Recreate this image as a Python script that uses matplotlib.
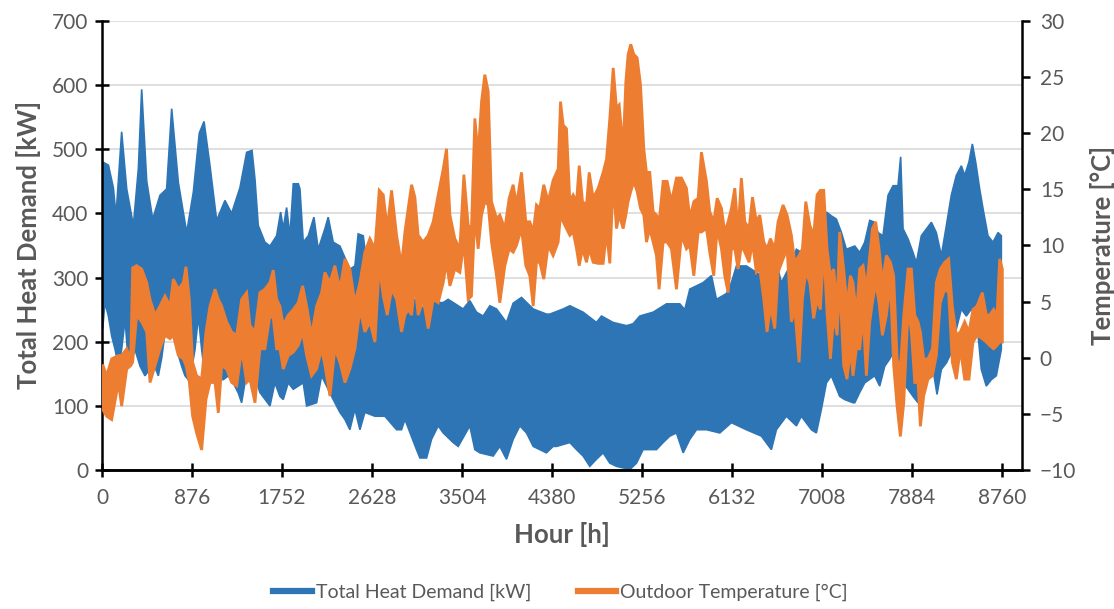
import numpy as np
import matplotlib
matplotlib.use("Agg")
import matplotlib.pyplot as plt
from matplotlib.lines import Line2D

plt.rcParams['font.family'] = ['Lato', 'DejaVu Sans']

# heat demand envelope (hour, kW)
demand_top_h = [6, 62, 110, 136, 191, 240, 305, 354, 386, 435, 493, 564, 629, 678, 743, 824, 889, 947, 993,
                1051, 1116, 1197, 1262, 1343, 1408, 1460, 1489, 1521, 1586, 1635, 1700, 1739, 1764, 1797, 1830,
                1862, 1911, 1927, 1959, 2008, 2063, 2105, 2170, 2202, 2251, 2316, 2413, 2462, 2494, 2543, 2592,
                2640, 2689, 2738, 2835, 2932, 3014, 3111, 3160, 3224, 3322, 3370, 3468, 3516, 3581, 3646, 3711,
                3776, 3841, 3938, 4003, 4084, 4198, 4327, 4360, 4490, 4555, 4684, 4814, 4863, 4976, 5106, 5171,
                5236, 5366, 5496, 5625, 5674, 5723, 5788, 5852, 5934, 5982, 6080, 6128, 6177, 6274, 6371, 6517,
                6566, 6615, 6712, 6761, 6858, 6907, 6955, 7004, 7053, 7101, 7150, 7199, 7247, 7296, 7329, 7377,
                7426, 7475, 7523, 7556, 7604, 7653, 7702, 7750, 7776, 7799, 7848, 7896, 7929, 7977, 8075, 8123,
                8172, 8221, 8269, 8318, 8367, 8399, 8441, 8474, 8506, 8545, 8578, 8626, 8675, 8724, 8756]
demand_top = [480, 475, 440, 396, 527, 438, 381, 470, 593, 450, 391, 428, 438, 563, 448, 370, 433, 525, 543,
              474, 389, 420, 400, 440, 495, 498, 453, 381, 355, 349, 365, 402, 376, 409, 365,
              446, 446, 438, 355, 365, 394, 344, 376, 394, 355, 349, 313, 318, 368, 365, 303,
              344, 330, 320, 290, 262, 272, 251, 261, 261, 261, 266, 256, 251, 264, 246, 240,
              256, 251, 230, 260, 269, 251, 243, 243, 251, 256, 246, 230, 240, 230, 225, 228,
              240, 246, 259, 259, 250, 282, 287, 292, 303, 266, 275, 292, 318, 318, 308, 292,
              323, 292, 323, 344, 334, 292, 287, 303, 402, 396, 391, 370, 344, 347, 349, 339,
              355, 389, 386, 370, 365, 428, 443, 443, 488, 376, 360, 339, 323, 365, 386, 370,
              334, 381, 428, 459, 474, 459, 480, 508, 480, 438, 407, 365, 355, 370, 365]

demand_low_h = [6, 28, 62, 94, 127, 159, 191, 224, 256, 289, 321, 370, 418, 467, 499, 548, 581, 613, 662, 694,
                727, 775, 808, 840, 873, 905, 938, 970, 1002, 1051, 1100, 1132, 1181, 1230, 1278, 1327, 1359,
                1408, 1457, 1489, 1537, 1635, 1683, 1732, 1764, 1813, 1862, 1959, 1992, 2089, 2138, 2235, 2316,
                2365, 2413, 2462, 2511, 2559, 2657, 2754, 2868, 2916, 2949, 3062, 3095, 3160, 3208, 3273, 3322,
                3419, 3468, 3581, 3630, 3679, 3808, 3873, 3938, 4003, 4068, 4133, 4198, 4327, 4392, 4425, 4555,
                4620, 4684, 4749, 4814, 4879, 4944, 5009, 5139, 5204, 5268, 5398, 5463, 5528, 5593, 5658, 5723,
                5788, 5885, 6015, 6128, 6274, 6420, 6517, 6566, 6663, 6761, 6809, 6907, 6955, 7004, 7053, 7101,
                7182, 7231, 7312, 7329, 7377, 7426, 7523, 7572, 7621, 7669, 7718, 7750, 7799, 7848, 7896, 7945,
                7994, 8091, 8130, 8172, 8221, 8269, 8318, 8367, 8415, 8464, 8513, 8561, 8610, 8659, 8707, 8756]
demand_low = [220, 261, 240, 209, 188, 162, 188, 235, 167, 172, 188, 162, 147, 158, 167, 147, 175, 214, 209, 230,
              188, 162, 147, 141, 158, 188, 240, 188, 147, 158, 158, 141, 141, 147, 136, 120, 105,
              152, 136, 147, 121, 100, 136, 115, 110, 136, 126, 136, 100, 105, 147, 115, 90,
              79, 63, 95, 63, 90, 84, 84, 63, 63, 79, 32, 19, 19, 48, 69, 58,
              43, 37, 69, 32, 27, 22, 37, 17, 48, 69, 58, 37, 27, 37, 37, 43,
              32, 22, 6, 17, 27, 11, 6, 1, 11, 32, 32, 43, 53, 58, 27, 48,
              63, 63, 58, 74, 63, 53, 32, 63, 84, 69, 84, 63, 58, 95, 136, 147,
              115, 110, 105, 105, 121, 136, 147, 131, 162, 173, 188, 162, 136, 126, 115, 105,
              136, 157, 118, 157, 167, 183, 220, 251, 240, 251, 240, 157, 131, 141, 147, 188]

# outdoor temperature band (hour, °C high / low)
temp_h = [6, 45, 94, 159, 191, 240, 279, 298, 337, 386, 435, 467, 516, 564, 613, 662, 694, 743, 792, 817,
          850, 882, 921, 970, 1012, 1051, 1100, 1132, 1165, 1213, 1262, 1311, 1359, 1408, 1440, 1489, 1537,
          1586, 1635, 1667, 1700, 1732, 1764, 1813, 1862, 1910, 1953, 1992, 2040, 2089, 2138, 2170, 2219,
          2267, 2316, 2365, 2413, 2462, 2511, 2559, 2608, 2657, 2699, 2738, 2777, 2819, 2868, 2916, 2949,
          2981, 3014, 3046, 3078, 3127, 3176, 3224, 3273, 3322, 3354, 3387, 3435, 3484, 3523, 3565, 3597,
          3630, 3662, 3695, 3727, 3760, 3792, 3841, 3873, 3922, 3964, 4003, 4035, 4084, 4126, 4165, 4198,
          4230, 4262, 4301, 4344, 4392, 4441, 4464, 4490, 4522, 4555, 4587, 4620, 4646, 4678, 4717, 4743,
          4782, 4831, 4879, 4912, 4944, 4977, 5009, 5035, 5074, 5100, 5122, 5148, 5178, 5210, 5243, 5275,
          5301, 5333, 5366, 5398, 5424, 5463, 5502, 5544, 5593, 5642, 5690, 5723, 5762, 5804, 5836, 5885,
          5917, 5956, 5989, 6031, 6063, 6096, 6128, 6161, 6193, 6225, 6258, 6300, 6333, 6371, 6404, 6443,
          6475, 6508, 6550, 6582, 6631, 6670, 6712, 6745, 6787, 6819, 6852, 6891, 6929, 6962, 6994, 7027,
          7059, 7092, 7124, 7157, 7182, 7221, 7254, 7286, 7312, 7345, 7377, 7410, 7442, 7475, 7501, 7533,
          7565, 7598, 7637, 7676, 7708, 7741, 7773, 7806, 7848, 7880, 7913, 7945, 7968, 8000, 8042, 8085,
          8123, 8162, 8205, 8243, 8279, 8318, 8357, 8399, 8441, 8480, 8519, 8571, 8610, 8642, 8681, 8714,
          8740, 8766]
temp_high = [-0.6, -1.6, -0.1, 0.2, 0.2, 0.8, -0.1, 8.0, 8.2, 7.9, 6.7, 5.2, 3.8, 4.6, 5.5, 4.6, 7.0, 6.1, 6.7, 8.1,
             5.2, -0.4, -1.6, -1.9, 2.3, 4.6, 6.1, 5.2, 4.6, 3.2, 2.3, 2.0, 5.2, 5.8, 2.9, 2.3, 5.8,
             6.1, 6.7, 7.8, 5.2, 4.6, 2.9, 3.8, 4.3, 4.9, 6.4, 4.6, 2.0, 4.6, 5.8, 7.6, 6.7,
             8.2, 6.1, 8.8, 7.9, 4.9, 6.7, 9.4, 10.6, 9.7, 14.9, 14.5, 11.5, 14.9, 10.9, 8.2, 11.2,
             13.3, 15.4, 14.3, 10.9, 10.3, 10.9, 12.1, 14.5, 16.8, 18.6, 12.7, 10.6, 9.7, 16.3, 11.8, 11.5,
             21.3, 18.0, 22.8, 25.2, 23.7, 13.9, 12.4, 12.7, 11.5, 14.2, 15.4, 13.6, 16.5, 12.1, 12.1, 11.2,
             13.6, 13.3, 15.4, 13.9, 15.8, 16.8, 22.8, 20.7, 20.4, 13.9, 14.5, 13.9, 17.1, 13.9, 13.6, 16.5,
             14.2, 15.1, 16.5, 17.7, 21.3, 25.8, 22.2, 22.5, 18.6, 24.6, 27.0, 27.9, 27.0, 26.7, 24.3, 18.6,
             16.5, 16.5, 13.0, 12.7, 12.1, 15.7, 15.7, 13.9, 16.0, 16.0, 15.1, 12.4, 13.9, 14.2, 18.3, 15.7,
             13.0, 12.1, 14.2, 13.3, 11.2, 12.1, 13.3, 15.1, 11.2, 16.0, 12.1, 11.5, 14.3, 12.1, 12.7, 10.3,
             9.7, 10.6, 9.7, 12.1, 13.6, 12.7, 10.9, 8.5, 9.1, 9.7, 13.9, 11.8, 10.9, 14.5, 14.9, 14.9,
             9.7, 7.3, 7.9, 4.6, 11.2, 7.9, 4.6, 7.3, 6.7, 3.8, 7.9, 8.2, 6.1, 9.1, 11.5, 12.1,
             9.7, 6.7, 9.1, 8.5, 7.3, -0.1, -1.0, 3.8, 7.9, 7.9, 3.8, 3.2, 2.3, -0.1, -0.1, 0.8,
             6.7, 7.9, 8.5, 8.8, 4.6, 2.0, 2.3, 3.2, 2.3, 4.3, 4.6, 5.8, 3.8, 3.8, 4.3, 3.8,
             8.8, 7.9]
temp_low = [-4.6, -5.2, -5.5, -2.2, -4.3, -1.0, -0.7, -0.4, 3.8, 3.2, 2.3, -2.2, -0.7, 0.8, 2.0, 1.7, 2.0, 0.2, -0.1, -0.7,
            -2.2, -5.2, -6.7, -8.2, -3.7, -2.2, -2.2, -4.9, -0.7, -1.0, -2.2, -2.5, 0.8, -2.2, -1.9, -4.0, 0.8,
            0.8, 3.8, 3.5, 0.8, 0.8, -1.0, 0.2, 0.5, 1.1, 2.3, 0.2, -1.6, -1.0, 0.8, -0.7, -3.4,
            0.8, -0.4, -2.2, -1.0, 0.8, 4.3, 2.3, 3.2, 1.4, 8.2, 5.5, 3.8, 6.1, 5.2, 2.3, 3.8,
            4.3, 3.8, 6.7, 3.8, 5.2, 2.6, 5.2, 4.9, 6.7, 8.5, 6.4, 7.9, 7.6, 10.3, 5.2, 5.5,
            12.7, 9.7, 12.7, 13.9, 13.6, 10.3, 7.3, 4.9, 8.2, 9.7, 9.4, 10.0, 11.5, 8.2, 7.3, 4.6,
            8.5, 8.5, 7.0, 10.0, 9.1, 10.3, 12.7, 12.1, 11.5, 10.9, 11.2, 9.7, 8.2, 9.7, 8.5, 9.7,
            8.5, 8.4, 8.4, 11.2, 8.4, 15.7, 11.5, 12.7, 11.5, 12.7, 13.9, 14.8, 15.7, 14.8, 13.3, 12.7,
            10.3, 11.5, 10.3, 9.1, 6.1, 10.3, 10.3, 9.7, 6.1, 10.9, 9.7, 10.0, 7.3, 11.2, 11.2, 11.5,
            9.4, 7.3, 11.5, 9.7, 7.3, 5.8, 9.7, 9.7, 7.9, 10.0, 9.4, 8.5, 10.3, 7.6, 7.9, 5.2,
            2.3, 4.6, 2.6, 7.6, 8.8, 9.7, 3.2, 4.3, -0.4, 5.2, 7.6, 6.7, 3.5, 5.2, 4.3, 9.7,
            4.0, -0.1, 3.8, 2.0, 6.7, -0.7, -1.9, 0.8, -1.6, 0.8, 0.8, 3.8, -1.6, 3.2, 4.9, 6.7,
            4.9, 2.0, 3.8, 6.7, -0.7, -4.3, -7.0, -4.0, 4.3, 2.3, -2.2, -2.2, -6.1, -3.4, -1.9, -1.6,
            0.2, 4.9, 6.1, 5.8, -0.4, -1.9, 0.8, -1.9, -1.9, 1.4, 2.0, 1.7, 1.4, 1.1, 0.8, 1.1,
            1.4, 1.4]

hour_ticks = [0, 876, 1752, 2628, 3504, 4380, 5256, 6132, 7008, 7884, 8760]
blue = '#2E75B6'
orange = '#ED7D31'
grey = '#595959'

fig = plt.figure(figsize=(11.14, 6.09), dpi=100)
ax = fig.add_axes([0.0916, 0.228, 0.8256, 0.738])
ax2 = ax.twinx()

# heat demand band
ax.fill(np.concatenate([demand_top_h, demand_low_h[::-1]]),
        np.concatenate([demand_top, demand_low[::-1]]),
        facecolor=blue, edgecolor=blue, linewidth=1.2, zorder=2)

# temperature band
ax2.fill(np.concatenate([temp_h, temp_h[::-1]]),
         np.concatenate([temp_high, temp_low[::-1]]),
         facecolor=orange, edgecolor=orange, linewidth=2.0, joinstyle='miter', zorder=3)

ax.set_xlim(0, 8955)
ax.set_ylim(0, 700)
ax2.set_ylim(-10, 30)
ax.set_xticks(hour_ticks)
ax.set_yticks(range(0, 701, 100))
ax2.set_yticks(range(-10, 31, 5))
ax.yaxis.grid(True, color='#d9d9d9', linewidth=1.2, zorder=0)
ax.set_axisbelow(True)

for a in (ax, ax2):
    a.spines['top'].set_visible(False)
    for s in ('left', 'right', 'bottom'):
        a.spines[s].set_linewidth(1.8)
        a.spines[s].set_color('black')
ax.tick_params(direction='inout', length=10, width=1.8, colors='black',
               labelcolor=grey, labelsize=15, pad=5)
ax.tick_params(axis='x', pad=8)
ax2.tick_params(direction='out', length=6, width=1.8, colors='black',
                labelcolor=grey, labelsize=15, pad=7)
ax2.spines['left'].set_visible(False)
ax.spines['right'].set_visible(False)

ax.set_xlabel('Hour [h]', fontsize=18.5, fontweight='bold', color=grey, labelpad=10)
ax.set_ylabel('Total Heat Demand [kW]', fontsize=18.5, fontweight='bold', color=grey, labelpad=8)
ax2.set_ylabel('Temperature [°C]', fontsize=18.5, fontweight='bold', color=grey, labelpad=10)

handles = [Line2D([], [], color=blue, linewidth=4.5),
           Line2D([], [], color=orange, linewidth=4.5)]
fig.legend(handles, ['Total Heat Demand [kW]', 'Outdoor Temperature [°C]'],
           loc='lower center', bbox_to_anchor=(0.503, -0.015), ncol=2, frameon=False,
           fontsize=14, labelcolor=grey, handlelength=2.0, handletextpad=0.2,
           columnspacing=2.4)

fig.savefig('out.png', dpi=100)
